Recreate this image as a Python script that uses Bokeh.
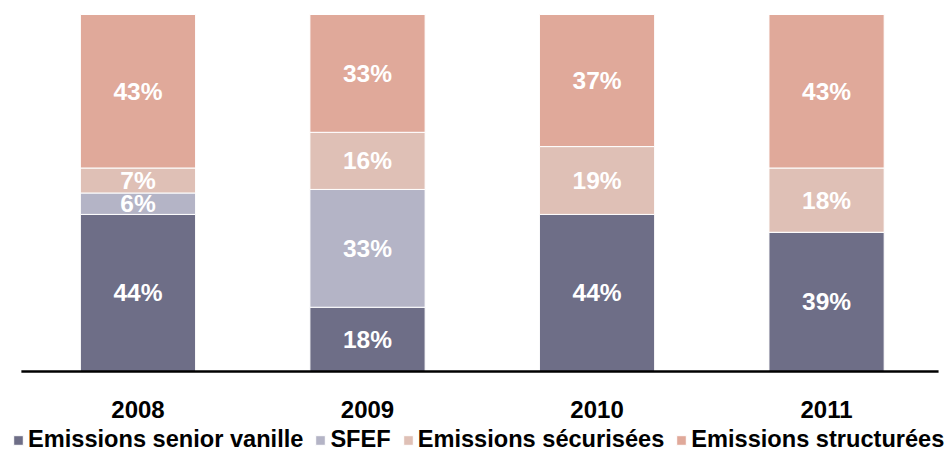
from bokeh.plotting import figure
from bokeh.models import Range1d, ColumnDataSource, Legend, LegendItem
from bokeh.core.properties import value
from bokeh.embed import file_html
from bokeh.resources import INLINE

# Data: share of issuance by type (%)
years = ["2008", "2009", "2010", "2011"]
senior_vanille = [44, 18, 44, 39]
sfef = [6, 33, 0, 0]
securisees = [7, 16, 19, 18]
structurees = [43, 33, 37, 43]

series_names = ["Emissions senior vanille", "SFEF", "Emissions sécurisées", "Emissions structurées"]
series_keys = ["senior", "sfef", "secu", "struct"]
colors = ["#6E6E87", "#B4B4C6", "#DFC0B6", "#E0A99A"]

FONT = value("Liberation Sans")

xs = list(range(len(years)))
source = ColumnDataSource(dict(
    x=xs, senior=senior_vanille, sfef=sfef, secu=securisees, struct=structurees,
))

p = figure(
    width=950, height=453,
    x_range=Range1d(-0.599, 3.540), y_range=Range1d(-22.97, 103.92),
    output_backend="svg", toolbar_location=None,
    min_border=0, min_border_left=0, min_border_right=0,
    min_border_top=0, min_border_bottom=0,
)
p.axis.visible = False
p.grid.visible = False
p.outline_line_color = None
p.background_fill_color = "white"
p.border_fill_color = "white"

renderers = p.vbar_stack(
    series_keys, x="x", width=0.502, source=source,
    color=colors, line_color="white", line_width=1,
)

# Segment value labels
lx, ly, lt = [], [], []
for i in xs:
    base = 0
    for vals in (senior_vanille, sfef, securisees, structurees):
        v = vals[i]
        if v > 0:
            lx.append(i)
            ly.append(base + v / 2)
            lt.append(f"{v}%")
        base += v
p.text(x=lx, y=ly, text=lt, text_color="white", text_font=FONT,
       text_font_style="bold", text_font_size=value("24.5px"),
       text_align="center", text_baseline="middle")

# Baseline axis
p.segment(x0=[-0.508], y0=[0], x1=[3.488], y1=[0], line_color="black", line_width=2.5)

# Category labels
p.text(x=xs, y=[-10.7] * len(xs), text=years, text_color="black", text_font=FONT,
       text_font_style="bold", text_font_size=value("24px"),
       text_align="center", text_baseline="middle")

legend = Legend(
    items=[LegendItem(label=n, renderers=[r]) for n, r in zip(series_names, renderers)],
    orientation="horizontal", location=(12, 0),
    glyph_width=12, glyph_height=12, label_standoff=4, spacing=11,
    padding=0, margin=0, border_line_color=None, background_fill_alpha=0,
    label_text_font="Liberation Sans", label_text_font_style="bold",
    label_text_font_size="23.6px", label_text_color="black",
)
p.add_layout(legend)

open("out.html", "w").write(file_html(p, INLINE))
